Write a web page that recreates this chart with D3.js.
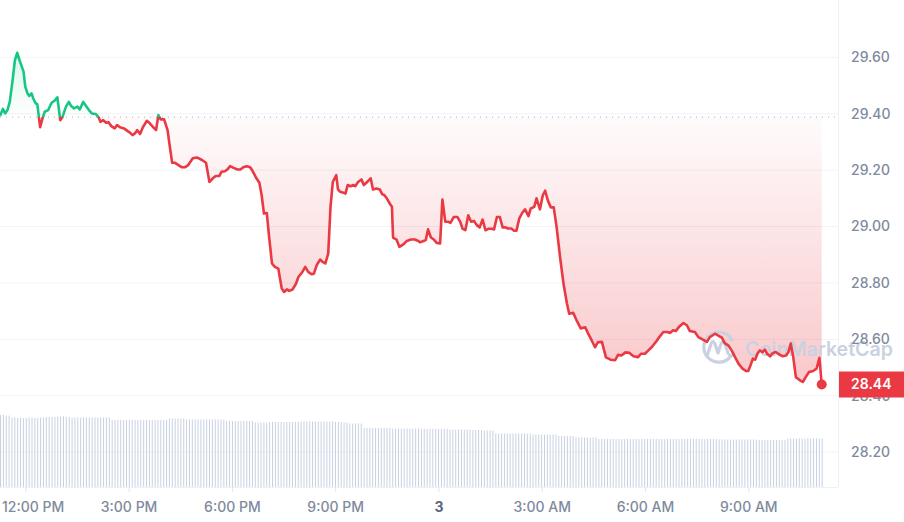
<!DOCTYPE html>
<html><head><meta charset="utf-8">
<script src="https://cdn.jsdelivr.net/npm/d3@7"></script>
<style>html,body{margin:0;padding:0;background:#fff;overflow:hidden}svg{display:block;font-family:Inter,"Noto Sans",sans-serif}</style>
</head><body><svg id="c" width="904" height="522"></svg>
<script>
// ---------- DATA ----------
const startTime = new Date(2024, 2, 2, 11, 15);
const openPrice = 29.388;
const lastPrice = 28.44;
const yTickValues = [28.20, 28.40, 28.60, 28.80, 29.00, 29.20, 29.40, 29.60];
const watermarkText = "CoinMarketCap";
// minutes since startTime
const minutes = [
0,5,9,13,17,22,26,30,34,38,
41,44,48,51,55,58,62,65,70,74,
78,84,90,96,100,105,109,115,120,124,
129,135,139,145,150,155,160,167,172,175,
180,185,189,194,200,204,209,216,222,227,
231,236,239,244,249,256,261,267,272,276,
280,286,292,296,300,305,311,317,322,328,
336,343,352,359,365,371,376,382,386,392,
396,401,407,414,419,424,430,436,441,446,
452,456,460,465,469,474,479,485,491,495,
500,504,510,516,520,526,532,537,543,547,
552,558,562,567,572,576,580,586,589,593,
597,602,606,611,616,619,624,630,634,640,
646,650,656,662,666,670,674,680,683,685,
691,696,703,709,716,723,729,732,738,742,
746,751,756,761,767,771,776,781,785,791,
797,802,806,811,816,821,826,831,836,841,
846,851,857,861,866,871,876,881,885,891,
896,900,905,910,915,921,925,931,935,941,
946,950,955,960,965,970,976,982,988,992,
999,1004,1012,1020,1025,1031,1037,1042,1049,1056,
1064,1072,1077,1083,1090,1097,1104,1112,1117,1124,
1130,1136,1143,1149,1156,1162,1168,1173,1178,1184,
1191,1197,1202,1211,1217,1225,1232,1237,1246,1254,
1258,1263,1269,1275,1281,1287,1294,1300,1304,1308,
1312,1316,1320,1324,1329,1333,1337,1342,1347,1352,
1358,1364,1370,1374,1378,1382,1387,1394,1399,1405,
1410,1417,1423,1428,1432];
const prices = [
29.392,29.417,29.401,29.413,29.442,29.519,29.590,29.616,29.590,29.567,
29.549,29.496,29.472,29.463,29.472,29.454,29.437,29.434,29.352,29.383,
29.407,29.413,29.439,29.448,29.458,29.377,29.389,29.425,29.442,29.427,
29.419,29.425,29.415,29.442,29.427,29.413,29.401,29.399,29.387,29.371,
29.377,29.368,29.370,29.356,29.348,29.360,29.352,29.348,29.339,29.332,
29.324,29.332,29.342,29.328,29.352,29.375,29.366,29.352,29.342,29.395,
29.380,29.380,29.342,29.283,29.226,29.226,29.218,29.210,29.210,29.218,
29.242,29.245,29.236,29.226,29.158,29.171,29.179,29.179,29.194,29.196,
29.202,29.214,29.208,29.202,29.202,29.210,29.214,29.210,29.194,29.174,
29.155,29.111,29.046,29.048,28.963,28.869,28.857,28.851,28.780,28.768,
28.777,28.772,28.777,28.798,28.821,28.836,28.857,28.839,28.831,28.833,
28.863,28.883,28.875,28.869,28.904,29.070,29.158,29.182,29.132,29.123,
29.121,29.117,29.147,29.143,29.147,29.143,29.158,29.167,29.147,29.158,
29.171,29.131,29.135,29.131,29.115,29.111,29.100,29.079,29.070,28.961,
28.954,28.928,28.937,28.949,28.954,28.954,28.949,28.944,28.949,28.952,
28.990,28.961,28.954,28.942,28.940,29.096,29.017,29.017,29.013,29.034,
29.034,29.017,28.993,28.987,29.040,29.017,29.020,29.005,28.997,29.025,
28.987,28.992,28.992,28.990,29.034,29.034,28.997,28.997,28.993,28.993,
28.985,28.985,29.029,29.048,29.061,29.037,29.064,29.070,29.100,29.061,
29.111,29.127,29.091,29.068,29.068,28.999,28.892,28.798,28.727,28.691,
28.694,28.671,28.639,28.643,28.620,28.597,28.572,28.590,28.591,28.536,
28.528,28.526,28.545,28.543,28.554,28.552,28.540,28.537,28.549,28.549,
28.561,28.573,28.591,28.608,28.626,28.626,28.623,28.632,28.630,28.646,
28.658,28.650,28.630,28.626,28.608,28.599,28.591,28.608,28.620,28.611,
28.606,28.587,28.579,28.561,28.537,28.514,28.496,28.488,28.488,28.508,
28.532,28.528,28.549,28.561,28.555,28.564,28.549,28.540,28.552,28.555,
28.547,28.540,28.543,28.555,28.585,28.543,28.466,28.455,28.449,28.469,
28.484,28.488,28.496,28.535,28.440];
// 24h volume (millions), one bar per 5 minutes
const volumeStepMinutes = 5;
const volumes = [
14.4,14.4,14.3,14.3,
13.9,13.9,13.8,13.8,13.8,13.8,13.9,13.9,13.8,13.8,13.9,13.9,
14.0,14.0,14.0,14.0,
14.1,14.1,14.1,14.0,14.0,
13.9,13.9,13.9,13.9,13.9,13.9,13.9,13.9,13.9,13.9,13.9,13.9,13.9,13.9,
13.4,13.4,13.4,13.4,13.4,13.4,13.4,13.4,13.4,13.4,13.4,13.4,13.4,13.4,13.4,13.4,13.4,13.4,13.4,13.4,
13.7,13.7,13.7,13.7,13.7,13.7,
13.5,13.5,13.5,13.5,13.5,13.5,13.5,13.5,13.5,13.5,13.5,13.5,13.5,13.5,
13.2,13.2,13.2,13.2,13.2,13.2,13.2,13.2,13.2,13.2,
12.9,12.9,12.9,12.9,12.9,
13.0,13.0,13.0,13.0,13.0,13.0,13.0,13.0,13.0,13.0,13.0,
13.1,13.1,13.1,13.1,13.1,13.1,13.1,13.1,13.1,13.1,13.1,13.1,13.0,13.0,13.0,12.9,12.9,
12.7,12.7,12.7,12.7,12.7,
11.8,11.8,11.8,11.8,11.8,11.8,11.8,11.8,11.8,11.8,11.7,11.7,11.7,11.7,11.7,11.7,11.7,11.7,11.7,11.7,11.6,11.6,11.6,11.6,11.6,11.6,11.6,11.6,11.6,11.6,
11.5,11.5,11.5,11.5,11.5,11.5,11.5,11.5,11.4,11.4,11.4,11.4,11.3,11.3,11.3,11.3,
10.7,10.7,10.7,10.7,10.7,10.7,10.7,10.7,10.7,10.7,10.7,10.7,10.7,
10.5,10.5,10.5,10.5,10.5,10.5,10.5,10.5,10.5,
10.2,10.2,10.2,10.2,10.2,10.2,
9.9,9.9,9.9,9.9,9.9,9.9,9.9,9.9,
9.6,9.6,9.6,9.6,9.6,9.6,9.6,9.6,9.6,9.6,9.6,9.6,9.6,9.6,9.6,9.6,9.6,9.6,9.6,9.6,9.6,
9.6,9.6,9.6,9.6,9.6,9.6,9.6,9.6,9.6,9.6,9.6,9.6,9.6,9.6,9.6,9.6,9.6,9.6,9.6,9.6,9.6,
9.5,9.5,9.5,9.5,9.5,9.5,9.5,9.5,9.5,9.5,9.5,9.5,9.5,9.5,
9.4,9.4,9.4,9.4,9.4,9.4,9.4,9.4,9.4,9.4,
9.7,9.7,9.7,9.7,9.7,9.7,9.7,9.7,9.7,9.7,9.7,9.7,9.7];

// ---------- LAYOUT ----------
const W = 904, H = 522;
const plotRight = 838, plotBottom = 487, lineRight = 821.7;
const RED = "#ea3943", GREEN = "#16c784";
const svg = d3.select("#c");
const addMin = m => new Date(startTime.getTime() + m * 60000);
const data = minutes.map((m, i) => ({t: addMin(m), v: prices[i]}));

const x = d3.scaleTime().domain([startTime, addMin(minutes[minutes.length - 1])]).range([0, lineRight]);
const y = d3.scaleLinear().domain([28.20, 29.60]).range([452.2, 57.3]);
const vy = d3.scaleLinear().domain([0, 14.4]).range([plotBottom, 415]);
const yBase = y(openPrice);
const barStep = (lineRight) / (volumes.length - 1);

const defs = svg.append("defs");
defs.append("clipPath").attr("id", "clipUp").append("rect")
  .attr("x", -5).attr("y", 0).attr("width", plotRight + 5).attr("height", yBase);
defs.append("clipPath").attr("id", "clipDown").append("rect")
  .attr("x", -5).attr("y", yBase).attr("width", plotRight + 5).attr("height", plotBottom - yBase);
const gR = defs.append("linearGradient").attr("id", "gRed").attr("gradientUnits", "userSpaceOnUse")
  .attr("x1", 0).attr("x2", 0).attr("y1", yBase).attr("y2", y(28.44));
gR.append("stop").attr("offset", 0).attr("stop-color", RED).attr("stop-opacity", 0.02);
gR.append("stop").attr("offset", 1).attr("stop-opacity", 0.28).attr("stop-color", RED);
const gG = defs.append("linearGradient").attr("id", "gGreen").attr("gradientUnits", "userSpaceOnUse")
  .attr("x1", 0).attr("x2", 0).attr("y1", yBase).attr("y2", y(29.62));
gG.append("stop").attr("offset", 0).attr("stop-color", GREEN).attr("stop-opacity", 0.0);
gG.append("stop").attr("offset", 1).attr("stop-color", GREEN).attr("stop-opacity", 0.16);

// grid
svg.append("g").selectAll("line").data(yTickValues).join("line")
  .attr("x1", 0).attr("x2", plotRight).attr("y1", d => y(d)).attr("y2", d => y(d))
  .attr("stroke", "#f1f3f6").attr("stroke-width", 1);
svg.append("line").attr("x1", plotRight + 0.5).attr("x2", plotRight + 0.5).attr("y1", 0).attr("y2", plotBottom)
  .attr("stroke", "#eff2f5");
svg.append("line").attr("x1", 0).attr("x2", plotRight).attr("y1", plotBottom + 0.5).attr("y2", plotBottom + 0.5)
  .attr("stroke", "#eff2f5");

// volume bars
const vx = d3.scaleLinear().domain([0, volumes.length - 1]).range([0, lineRight]);
svg.append("g").selectAll("rect").data(volumes).join("rect")
  .attr("x", (d, i) => vx(i))
  .attr("y", d => vy(d)).attr("width", 1).attr("height", d => plotBottom - vy(d))
  .attr("fill", "#c8d1e2");

// areas
const area = d3.area().x(d => x(d.t)).y0(yBase).y1(d => y(d.v));
svg.append("path").datum(data).attr("d", area).attr("fill", "url(#gGreen)").attr("clip-path", "url(#clipUp)");
svg.append("path").datum(data).attr("d", area).attr("fill", "url(#gRed)").attr("clip-path", "url(#clipDown)");

// baseline dotted
svg.append("line").attr("x1", 0).attr("x2", plotRight).attr("y1", yBase).attr("y2", yBase)
  .attr("stroke", "#a7afbe").attr("stroke-width", 1).attr("stroke-dasharray", "1,5");

// watermark
const wm = svg.append("g").attr("fill", "none").attr("stroke", "#c9d1e2").attr("stroke-width", 3.2)
  .attr("stroke-linecap", "round").attr("stroke-linejoin", "round");
wm.append("path").attr("d", "M731,356 A15,15 0 1 1 732,340");
wm.append("path").attr("d", "M707,356 L711,344 Q713,339 715,344 L718,353 L721,344 Q723,339 725,344 L728,353 Q730,358 734,354");
svg.append("text").attr("x", 745).attr("y", 356).text(watermarkText)
  .attr("font-size", 20).attr("font-weight", 600).attr("fill", "#c9d1e2")
  .attr("textLength", 148).attr("lengthAdjust", "spacingAndGlyphs");

// lines
const line = d3.line().x(d => x(d.t)).y(d => y(d.v));
svg.append("path").datum(data).attr("d", line).attr("fill", "none").attr("stroke", GREEN)
  .attr("stroke-width", 2.6).attr("stroke-linejoin", "round").attr("clip-path", "url(#clipUp)");
svg.append("path").datum(data).attr("d", line).attr("fill", "none").attr("stroke", RED)
  .attr("stroke-width", 2.6).attr("stroke-linejoin", "round").attr("clip-path", "url(#clipDown)");

// last point
const last = data[data.length - 1];
svg.append("circle").attr("cx", x(last.t)).attr("cy", y(last.v)).attr("r", 5).attr("fill", RED);

// y labels
svg.append("g").selectAll("text").data(yTickValues).join("text")
  .attr("x", 851).attr("y", d => y(d)).attr("dy", "0.35em")
  .attr("font-size", 14).attr("fill", "#808a9d").attr("font-weight", 500)
  .text(d => d3.format(".2f")(d));

// price label
svg.append("rect").attr("x", 839).attr("y", y(lastPrice) - 13).attr("width", 65).attr("height", 26).attr("fill", RED);
svg.append("text").attr("x", 851).attr("y", y(lastPrice)).attr("dy", "0.35em")
  .attr("font-size", 14).attr("font-weight", 600).attr("fill", "#fff").text(d3.format(".2f")(lastPrice));

// x axis
const xTicks = x.ticks(d3.timeHour.every(3));
const fmt = d => d.getHours() === 0 ? d3.timeFormat("%-d")(d) : d3.timeFormat("%-I:%M %p")(d);
svg.append("g").selectAll("line").data(xTicks).join("line")
  .attr("x1", d => x(d)).attr("x2", d => x(d)).attr("y1", plotBottom).attr("y2", plotBottom + 5)
  .attr("stroke", "#e3e6eb");
const xl = svg.append("g").selectAll("text").data(xTicks).join("text")
  .attr("x", d => x(d)).attr("y", 512).attr("text-anchor", "middle")
  .attr("font-size", 14)
  .attr("font-weight", d => d.getHours() === 0 ? 700 : 500)
  .attr("fill", d => d.getHours() === 0 ? "#58667e" : "#808a9d")
  .text(fmt);
xl.each(function(d) {
  const w = this.getComputedTextLength();
  const cx = x(d);
  if (cx - w / 2 < 2) d3.select(this).attr("x", 2 + w / 2);
});
</script></body></html>
